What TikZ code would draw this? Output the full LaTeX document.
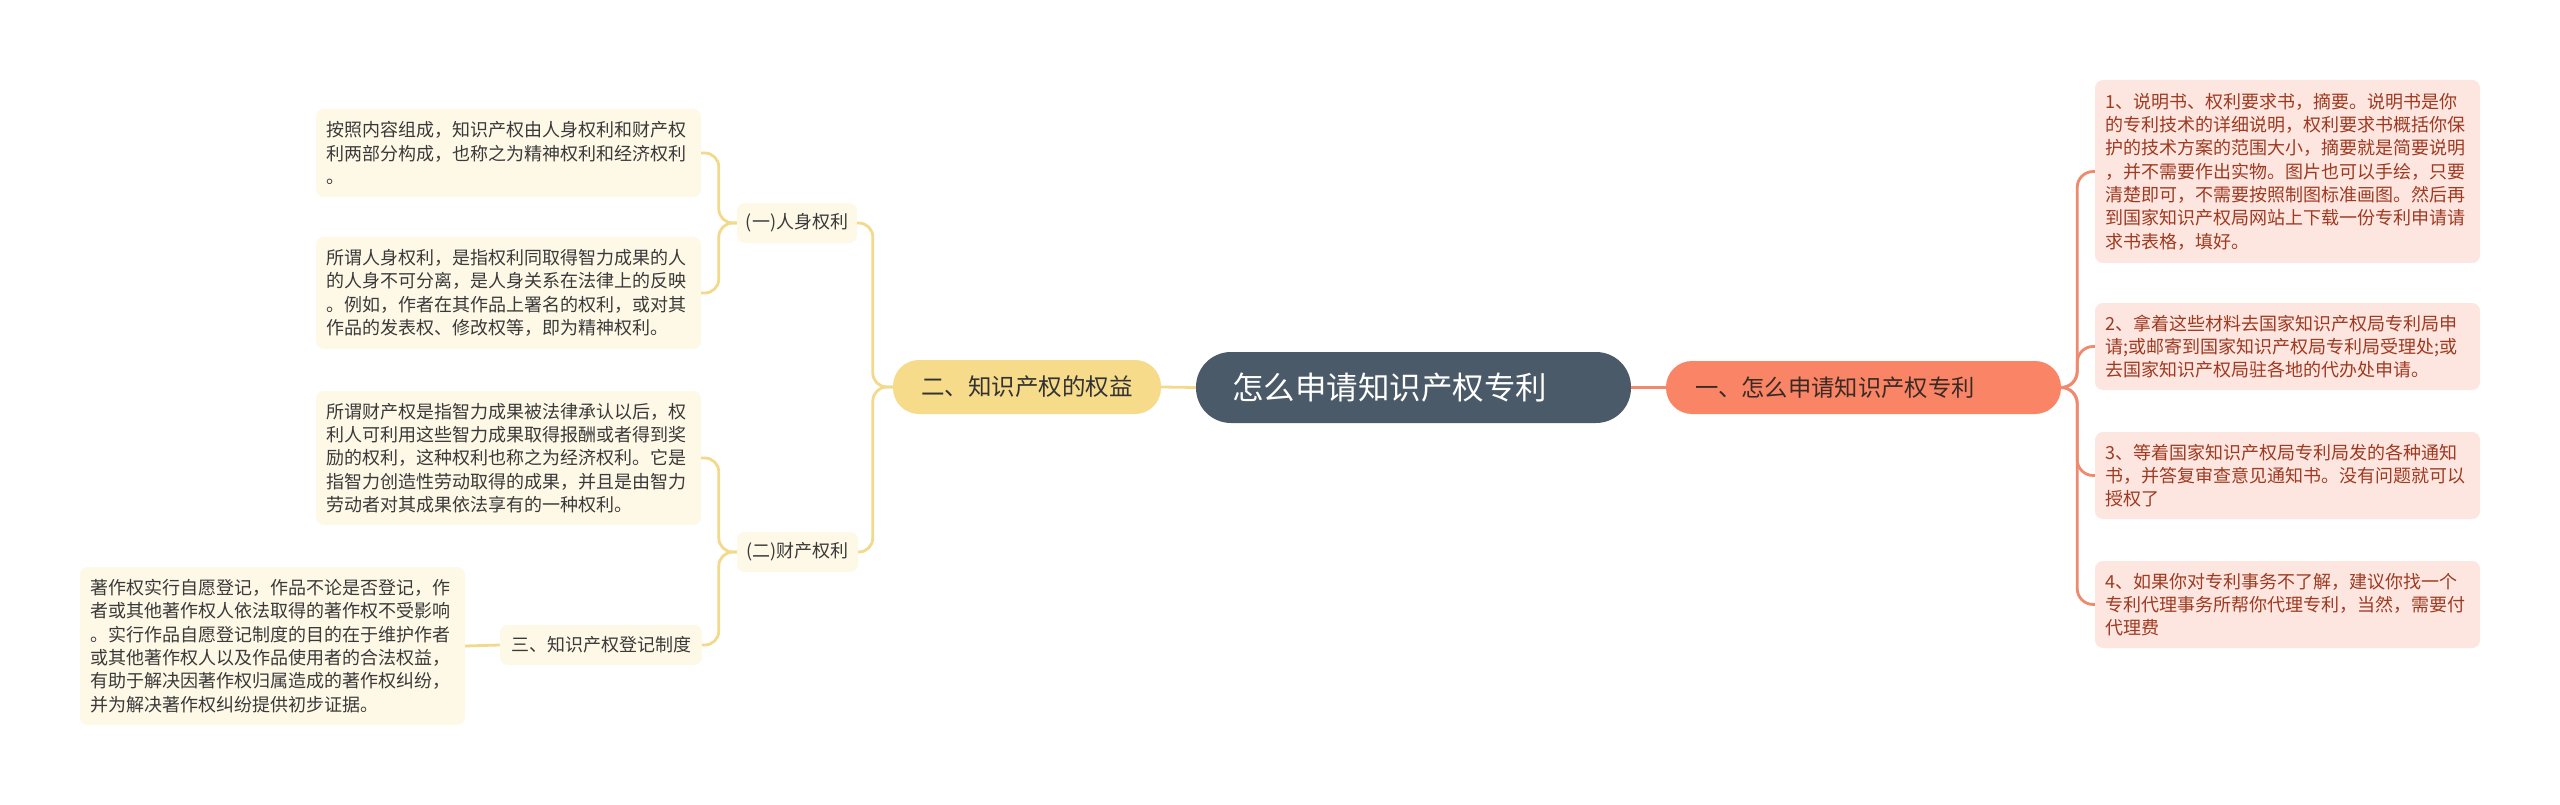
\documentclass[tikz,border=0pt]{standalone}
\usepackage{fontspec}
\setmainfont{Noto Sans CJK SC}
\definecolor{cfill}{HTML}{4B5A68}
\definecolor{rfill}{HTML}{FA8566}
\definecolor{rtext}{HTML}{3A2A26}
\definecolor{rleaf}{HTML}{FDE6DF}
\definecolor{rleaftext}{HTML}{9E3A22}
\definecolor{rline}{HTML}{EF8A6E}
\definecolor{lfill}{HTML}{F6DB8B}
\definecolor{ltext}{HTML}{333333}
\definecolor{lleaf}{HTML}{FEF8E7}
\definecolor{lleaftext}{HTML}{3A3A3A}
\definecolor{yline}{HTML}{F2D98C}
\tikzset{
  centralbox/.style={fill=cfill, text=white, rounded corners=35pt, minimum width=435pt, minimum height=71pt, inner sep=0pt, font=\fontsize{31.5}{36}\selectfont},
  rbranchbox/.style={fill=rfill, text=rtext, rounded corners=26pt, minimum width=395pt, minimum height=53pt, inner sep=0pt, font=\fontsize{23.3}{28}\selectfont},
  lbranchbox/.style={fill=lfill, text=ltext, rounded corners=26pt, minimum width=268pt, minimum height=54pt, inner sep=0pt, font=\fontsize{23.5}{28}\selectfont},
  rleafbox/.style={fill=rleaf, text=rleaftext, rounded corners=8pt, text width=365pt, inner xsep=10pt, inner ysep=0pt, align=left, font=\fontsize{18}{23.3}\selectfont},
  lleafbox/.style={fill=lleaf, text=lleaftext, rounded corners=8pt, text width=365pt, inner xsep=10pt, inner ysep=0pt, align=left, font=\fontsize{18}{23.3}\selectfont},
  lsubbox/.style={fill=lleaf, text=lleaftext, rounded corners=8pt, inner sep=0pt, minimum height=40pt, font=\fontsize{18}{22}\selectfont},
  rconn/.style={draw=rline, line width=2.8pt, rounded corners=16pt},
  yconn/.style={draw=yline, line width=2.8pt, rounded corners=14pt},
}
\begin{document}
\begin{tikzpicture}[x=1pt, y=-1pt]
\useasboundingbox (0,0) rectangle (2560,805);
\fill[white] (0,0) rectangle (2560,805);

% central and main branches
\node[centralbox] (C) at (1413.5,387.5) {\makebox[435pt][l]{\hspace*{36pt}怎么申请知识产权专利}};
\node[rbranchbox] (R) at (1863.5,387.5) {\makebox[395pt][l]{\hspace*{29pt}一、怎么申请知识产权专利}};
\node[lbranchbox] (L) at (1027,387) {二、知识产权的权益};

% right leaves
\node[rleafbox, minimum height=183pt] (R1) at (2287.5,171.5) {1、说明书、权利要求书，摘要。说明书是你\\的专利技术的详细说明，权利要求书概括你保\\护的技术方案的范围大小，摘要就是简要说明\\，并不需要作出实物。图片也可以手绘，只要\\清楚即可，不需要按照制图标准画图。然后再\\到国家知识产权局网站上下载一份专利申请请\\求书表格，填好。};
\node[rleafbox, minimum height=87pt] (R2) at (2287.5,346.5) {2、拿着这些材料去国家知识产权局专利局申\\请;或邮寄到国家知识产权局专利局受理处;或\\去国家知识产权局驻各地的代办处申请。};
\node[rleafbox, minimum height=87pt] (R3) at (2287.5,475.5) {3、等着国家知识产权局专利局发的各种通知\\书，并答复审查意见通知书。没有问题就可以\\授权了};
\node[rleafbox, minimum height=87pt] (R4) at (2287.5,604.5) {4、如果你对专利事务不了解，建议你找一个\\专利代理事务所帮你代理专利，当然，需要付\\代理费};

% left sub nodes
\node[lsubbox, minimum width=120pt] (A1) at (797,223) {(一)人身权利};
\node[lsubbox, minimum width=121pt] (A2) at (797.5,552) {(二)财产权利};
\node[lsubbox, minimum width=202pt] (S3) at (601,645) {三、知识产权登记制度};

% left leaves
\node[lleafbox, minimum height=88pt] (LA) at (508.5,153) {按照内容组成，知识产权由人身权利和财产权\\利两部分构成，也称之为精神权利和经济权利\\。};
\node[lleafbox, minimum height=112pt] (LB) at (508.5,293) {所谓人身权利，是指权利同取得智力成果的人\\的人身不可分离，是人身关系在法律上的反映\\。例如，作者在其作品上署名的权利，或对其\\作品的发表权、修改权等，即为精神权利。};
\node[lleafbox, minimum height=134pt] (LC) at (508.5,458) {所谓财产权是指智力成果被法律承认以后，权\\利人可利用这些智力成果取得报酬或者得到奖\\励的权利，这种权利也称之为经济权利。它是\\指智力创造性劳动取得的成果，并且是由智力\\劳动者对其成果依法享有的一种权利。};
\node[lleafbox, minimum height=158pt] (LD) at (272.5,646) {著作权实行自愿登记，作品不论是否登记，作\\者或其他著作权人依法取得的著作权不受影响\\。实行作品自愿登记制度的目的在于维护作者\\或其他著作权人以及作品使用者的合法权益，\\有助于解决因著作权归属造成的著作权纠纷，\\并为解决著作权纠纷提供初步证据。};

% connectors
\draw[rconn] (C.east) -- (R.west);
\draw[yconn] (C.west) -- (L.east);
\foreach \n in {R1,R2,R3,R4}{
  \draw[rconn] (R.east) -- ++(16,0) |- (\n.west);
}
\draw[yconn] (L.west) -- ++(-20,0) |- (A1.east);
\draw[yconn] (L.west) -- ++(-20,0) |- (A2.east);
\draw[yconn] (A1.west) -- ++(-18,0) |- (LA.east);
\draw[yconn] (A1.west) -- ++(-18,0) |- (LB.east);
\draw[yconn] (A2.west) -- ++(-18,0) |- (LC.east);
\draw[yconn] (A2.west) -- ++(-18,0) |- (S3.east);
\draw[yconn] (S3.west) -- (LD.east);
\end{tikzpicture}
\end{document}
